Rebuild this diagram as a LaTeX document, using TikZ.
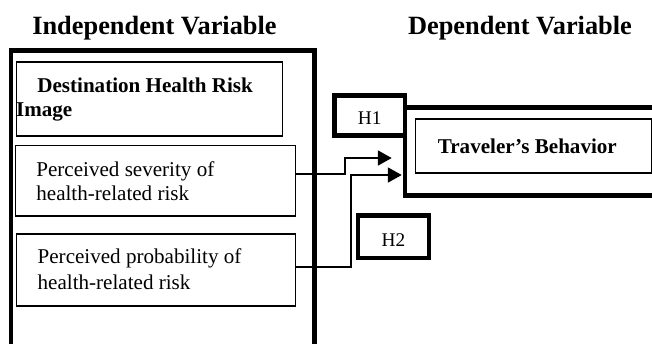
\documentclass[tikz,border=0pt]{standalone}
\usepackage{fontspec}
\setmainfont{Liberation Serif}
\usetikzlibrary{arrows.meta, positioning}

\begin{document}
\begin{tikzpicture}[x=0.02cm, y=-0.02cm, >={Triangle[length=7.9pt,width=8.5pt]}, every node/.style={font=\fontsize{12}{14}\selectfont}]
    \tikzset{frame/.style={draw, line width=2.8pt, inner sep=0pt, outer sep=0pt},
             hbox/.style={draw, line width=2.5pt, inner sep=0pt, outer sep=0pt, text height=10.7pt, text depth=0pt, font=\fontsize{11}{13}\selectfont},
             varbox/.style={draw, line width=0.6pt, inner sep=0pt, outer sep=0pt},
             lab/.style={anchor=base west, inner sep=0pt},
             title/.style={anchor=base, inner sep=0pt, font=\bfseries\fontsize{15}{18}\selectfont},
             conn/.style={->, line width=1.1pt}}
    \useasboundingbox (0,0) rectangle (652,343);
    % titles
    \node[title] (indeptitle) at (154.5,34.5) {Independent Variable};
    \node[title] (deptitle) at (520,34.5) {Dependent Variable};
    % frames
    \node[frame, minimum width=6.07cm, minimum height=6.4cm] (indep) at (162.75,210) {};
    \node[frame, minimum width=5.9cm, minimum height=1.76cm] (dep) at (552.5,151.5) {};
    \node[hbox, minimum width=1.41cm, minimum height=0.8cm] (h1) at (369.75,115.5) {H1};
    \node[hbox, minimum width=1.42cm, minimum height=0.85cm] (h2) at (393.5,236.75) {H2};
    % variable boxes
    \node[varbox, minimum width=5.32cm, minimum height=1.48cm] (dest) at (149.7,99) {};
    \node[varbox, minimum width=5.608cm, minimum height=1.406cm] (sev) at (155.5,180.85) {};
    \node[varbox, minimum width=5.58cm, minimum height=1.44cm] (prob) at (156.2,270) {};
    \node[varbox, minimum width=4.734cm, minimum height=1.08cm, font=\bfseries\fontsize{12}{14}\selectfont] (behav) at (533.35,146) {\hspace*{-0.24cm}Traveler’s Behavior};
    % labels
    \node[lab, font=\bfseries\fontsize{12}{14}\selectfont] (destl1) at (37,92.7) {Destination Health Risk};
    \node[lab, font=\bfseries\fontsize{12}{14}\selectfont] (destl2) at (15.7,116.7) {Image};
    \node[lab] (sevl1) at (36,176) {Perceived severity of};
    \node[lab] (sevl2) at (36,200) {health-related risk};
    \node[lab] (probl1) at (37.3,263.3) {Perceived probability of};
    \node[lab] (probl2) at (37.3,289) {health-related risk};
    % hypotheses H1 and H2
    \draw[conn] ([yshift=0.137cm]sev.east) -- ++(49.3,0) |- ([xshift=-0.266cm,yshift=-0.13cm]dep.west);
    \draw[conn] ([yshift=0.066cm]prob.east) -- ++(55,0) |- ([xshift=-0.066cm,yshift=-0.47cm]dep.west);
\end{tikzpicture}
\end{document}
